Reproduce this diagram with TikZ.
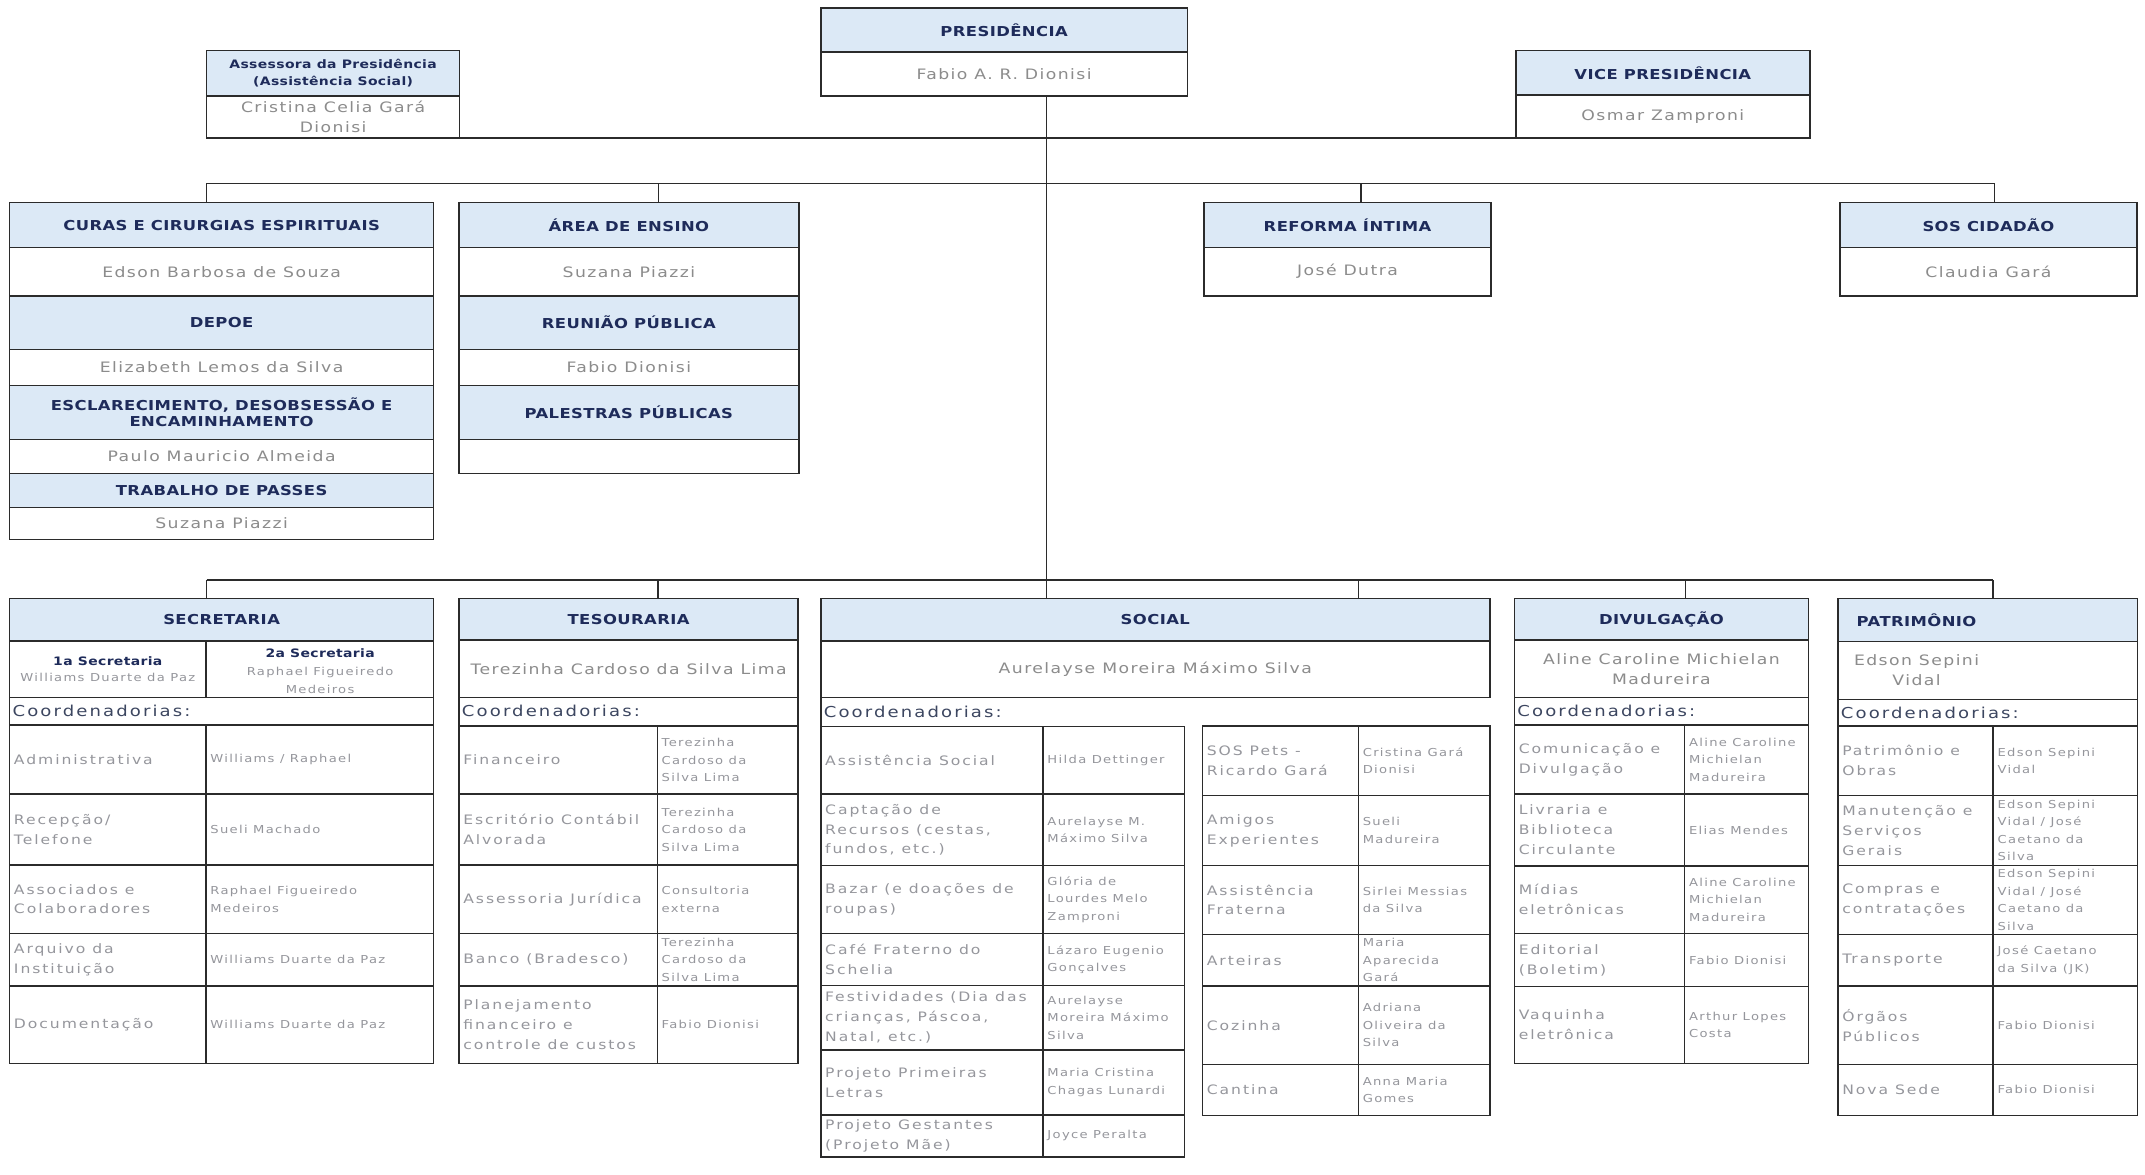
\documentclass[tikz,border=0pt]{standalone}
\usepackage{fontspec}
\setmainfont{DejaVu Sans}
\newfontfamily\hf[FakeStretch=1.2,LetterSpace=3]{DejaVu Sans}
\newfontfamily\nf[FakeStretch=1.2,LetterSpace=10]{DejaVu Sans}
\newfontfamily\cf[FakeStretch=1.2,LetterSpace=15]{DejaVu Sans}
\newfontfamily\rf[FakeStretch=1.2,LetterSpace=12]{DejaVu Sans}
\newfontfamily\kf[FakeStretch=1.2,LetterSpace=14]{DejaVu Sans}
\usetikzlibrary{fit}
\definecolor{hdrfill}{HTML}{DCE9F6}
\definecolor{navy}{HTML}{1E2B5A}
\definecolor{namegray}{HTML}{8C8C8C}
\definecolor{cellgray}{HTML}{95969C}
\definecolor{coordc}{HTML}{3C4660}
\definecolor{linec}{HTML}{2B2B2B}
\tikzset{
  bline/.style={draw=linec, line width=1.1pt},
  conn/.style={draw=linec, line width=1.1pt},
  boxo/.style={draw=linec, line width=1.1pt, inner sep=0pt, outer sep=0pt},
  htxt/.style={font=\hf\bfseries\fontsize{10}{12}\selectfont, text=navy, align=center, inner sep=0pt},
  hstxt/.style={font=\hf\bfseries\fontsize{8.5}{12.5}\selectfont, text=navy, align=center, inner sep=0pt},
  ntxt/.style={font=\nf\fontsize{10.5}{14.5}\selectfont, text=namegray, align=center, inner sep=0pt},
  ltxt/.style={font=\cf\fontsize{9.5}{14.5}\selectfont, text=cellgray, align=left, anchor=west, inner sep=0pt},
  rtxt/.style={font=\rf\fontsize{8}{12.8}\selectfont, text=cellgray, align=left, anchor=west, inner sep=0pt},
  ktxt/.style={font=\kf\fontsize{11}{12}\selectfont, text=coordc, anchor=west, inner sep=0pt},
}
\newcommand\orgrow[7]{%
  \draw[bline] (#1,#4) rectangle (#3,#5);
  \draw[bline] (#2,#4) -- (#2,#5);
  \node[ltxt] at ({#1+3},{(#4+#5)/2}) {#6};
  \node[rtxt] at ({#2+3},{(#4+#5)/2}) {#7};
}
\begin{document}
\begin{tikzpicture}[x=1pt,y=-1pt]
\fill[white] (0,0) rectangle (1568,858.2);
\useasboundingbox (0,0) rectangle (1568,858.2);

% ---------------- top row ----------------
\fill[hdrfill] (600,6) rectangle (868,38);
\node[boxo, fit={(600,6) (868,70)}] (pres) {};
\draw[bline] (600,38) -- (868,38);
\node[htxt] (presh) at (734,22) {PRESIDÊNCIA};
\node[ntxt] (presn) at (734,54) {Fabio A. R. Dionisi};

\fill[hdrfill] (151,37) rectangle (336,70);
\node[boxo, fit={(151,37) (336,101)}] (asses) {};
\draw[bline] (151,70) -- (336,70);
\node[hstxt] (assesh) at (243.5,53.5) {Assessora da Presidência\\(Assistência Social)};
\node[ntxt, font=\nf\fontsize{10.5}{14.5}\selectfont] (assesn) at (243.5,85.5) {Cristina Celia Gará\\Dionisi};

\fill[hdrfill] (1108,37) rectangle (1323,69.4);
\node[boxo, fit={(1108,37) (1323,101)}] (vice) {};
\draw[bline] (1108,69.4) -- (1323,69.4);
\node[htxt] (viceh) at (1215.5,53.2) {VICE PRESIDÊNCIA};
\node[ntxt] (vicen) at (1215.5,85.2) {Osmar Zamproni};

\draw[conn] (asses.south east) -- (vice.south west);

% ---------------- second row ----------------
% Curas column
\fill[hdrfill] (7,148.2) rectangle (317,180.8);
\fill[hdrfill] (7,216.4) rectangle (317,255.4);
\fill[hdrfill] (7,281.7) rectangle (317,321.1);
\fill[hdrfill] (7,346) rectangle (317,370.9);
\node[boxo, fit={(7,148.2) (317,394.3)}] (curas) {};
\foreach \yy in {180.8,216.4,255.4,281.7,321.1,346,370.9} \draw[bline] (7,\yy) -- (317,\yy);
\node[htxt] (curash) at (162,164.5) {CURAS E CIRURGIAS ESPIRITUAIS};
\node[ntxt] (curasn) at (162,198.6) {Edson Barbosa de Souza};
\node[htxt] (depoeh) at (162,235.9) {DEPOE};
\node[ntxt] (depoen) at (162,268.5) {Elizabeth Lemos da Silva};
\node[htxt] (esclh) at (162,301.4) {ESCLARECIMENTO, DESOBSESSÃO E\\ENCAMINHAMENTO};
\node[ntxt] (escln) at (162,333.5) {Paulo Mauricio Almeida};
\node[htxt] (passh) at (162,358.4) {TRABALHO DE PASSES};
\node[ntxt] (passn) at (162,382.6) {Suzana Piazzi};

% Area de ensino
\fill[hdrfill] (335.5,148.2) rectangle (584,180.8);
\fill[hdrfill] (335.5,216.4) rectangle (584,255.4);
\fill[hdrfill] (335.5,281.7) rectangle (584,321.1);
\node[boxo, fit={(335.5,148.2) (584,346)}] (ensino) {};
\foreach \yy in {180.8,216.4,255.4,281.7,321.1} \draw[bline] (335.5,\yy) -- (584,\yy);
\node[htxt] (ensinoh) at (459.7,164.5) {ÁREA DE ENSINO};
\node[ntxt] (ensinon) at (459.7,198.6) {Suzana Piazzi};
\node[htxt] (reunh) at (459.7,235.9) {REUNIÃO PÚBLICA};
\node[ntxt] (reunn) at (459.7,268.5) {Fabio Dionisi};
\node[htxt] (palh) at (459.7,301.4) {PALESTRAS PÚBLICAS};

% Reforma intima
\fill[hdrfill] (880,148.2) rectangle (1090,180.8);
\node[boxo, fit={(880,148.2) (1090,216.4)}] (reforma) {};
\draw[bline] (880,180.8) -- (1090,180.8);
\node[htxt] (reformah) at (985,164.5) {REFORMA ÍNTIMA};
\node[ntxt] (reforman) at (985,198.6) {José Dutra};

% SOS cidadao
\fill[hdrfill] (1345,148.2) rectangle (1562,180.8);
\node[boxo, fit={(1345,148.2) (1562,216.4)}] (sos) {};
\draw[bline] (1345,180.8) -- (1562,180.8);
\node[htxt] (sosh) at (1453.5,164.5) {SOS CIDADÃO};
\node[ntxt] (sosn) at (1453.5,198.6) {Claudia Gará};

% ---------------- third row ----------------
% Secretaria
\fill[hdrfill] (7,437.4) rectangle (317,468.5);
\node[boxo, fit={(7,437.4) (317,509.7)}] (sec) {};
\draw[bline] (7,468.5) -- (317,468.5);
\draw[bline] (150.6,468.5) -- (150.6,509.7);
\draw[bline] (7,509.7) -- (7,530) (317,509.7) -- (317,530);
\node[htxt] (sech) at (162,453) {SECRETARIA};
\node[font=\rf\fontsize{8}{12}\selectfont, text=cellgray, align=center, inner sep=0pt] (sec1) at (78.8,489)
  {{\hf\bfseries\fontsize{8.5}{12}\selectfont\color{navy}1a Secretaria}\\Williams Duarte da Paz};
\node[font=\rf\fontsize{8}{13}\selectfont, text=cellgray, align=center, inner sep=0pt] (sec2) at (234,490.5)
  {{\hf\bfseries\fontsize{8.5}{12}\selectfont\color{navy}2a Secretaria}\\Raphael Figueiredo\\Medeiros};
\node[ktxt] (seck) at (9,520) {Coordenadorias:};
\orgrow{7}{150.6}{317}{530}{580.4}{Administrativa}{Williams / Raphael}
\orgrow{7}{150.6}{317}{580.4}{632.3}{Recepção/\\Telefone}{Sueli Machado}
\orgrow{7}{150.6}{317}{632.3}{682.3}{Associados e\\Colaboradores}{Raphael Figueiredo\\Medeiros}
\orgrow{7}{150.6}{317}{682.3}{720.8}{Arquivo da\\Instituição}{Williams Duarte da Paz}
\orgrow{7}{150.6}{317}{720.8}{777.3}{Documentação}{Williams Duarte da Paz}

% Tesouraria
\fill[hdrfill] (335.5,437.4) rectangle (583.5,467.8);
\node[boxo, fit={(335.5,437.4) (583.5,509.7)}] (tes) {};
\draw[bline] (335.5,467.8) -- (583.5,467.8);
\draw[bline] (335.5,509.7) -- (335.5,530.7) (583.5,509.7) -- (583.5,530.7);
\node[htxt] (tesh) at (459.5,453) {TESOURARIA};
\node[ntxt] (tesn) at (459.5,489) {Terezinha Cardoso da Silva Lima};
\node[ktxt] (tesk) at (337.5,520) {Coordenadorias:};
\orgrow{335.5}{480.5}{583.5}{530.7}{580.4}{Financeiro}{Terezinha\\Cardoso da\\Silva Lima}
\orgrow{335.5}{480.5}{583.5}{580.4}{632.3}{Escritório Contábil\\Alvorada}{Terezinha\\Cardoso da\\Silva Lima}
\orgrow{335.5}{480.5}{583.5}{632.3}{682.3}{Assessoria Jurídica}{Consultoria\\externa}
\orgrow{335.5}{480.5}{583.5}{682.3}{720.8}{Banco (Bradesco)}{Terezinha\\Cardoso da\\Silva Lima}
\orgrow{335.5}{480.5}{583.5}{720.8}{777.3}{Planejamento\\financeiro e\\controle de custos}{Fabio Dionisi}

% Social
\fill[hdrfill] (600,437.4) rectangle (1089,468.6);
\node[boxo, fit={(600,437.4) (1089,509.9)}] (social) {};
\draw[bline] (600,468.6) -- (1089,468.6);
\draw[bline] (600,509.9) -- (600,531);
\node[htxt] (socialh) at (844.5,453) {SOCIAL};
\node[ntxt] (socialn) at (844.5,489.2) {Aurelayse Moreira Máximo Silva};
\node[ktxt] (socialk) at (602,520.5) {Coordenadorias:};
\orgrow{600}{762.5}{866}{531}{580.5}{Assistência Social}{Hilda Dettinger}
\orgrow{600}{762.5}{866}{580.5}{632.7}{Captação de\\Recursos (cestas,\\fundos, etc.)}{Aurelayse M.\\Máximo Silva}
\orgrow{600}{762.5}{866}{632.7}{682.3}{Bazar (e doações de\\roupas)}{Glória de\\Lourdes Melo\\Zamproni}
\orgrow{600}{762.5}{866}{682.3}{720.4}{Café Fraterno do\\Schelia}{Lázaro Eugenio\\Gonçalves}
\orgrow{600}{762.5}{866}{720.4}{767.5}{Festividades (Dia das\\crianças, Páscoa,\\Natal, etc.)}{Aurelayse\\Moreira Máximo\\Silva}
\orgrow{600}{762.5}{866}{767.5}{815}{Projeto Primeiras\\Letras}{Maria Cristina\\Chagas Lunardi}
\orgrow{600}{762.5}{866}{815}{845.6}{Projeto Gestantes\\(Projeto Mãe)}{Joyce Peralta}
\orgrow{879}{993}{1089}{530.7}{581.6}{SOS Pets -\\Ricardo Gará}{Cristina Gará\\Dionisi}
\orgrow{879}{993}{1089}{581.6}{632.7}{Amigos\\Experientes}{Sueli\\Madureira}
\orgrow{879}{993}{1089}{632.7}{683}{Assistência\\Fraterna}{Sirlei Messias\\da Silva}
\orgrow{879}{993}{1089}{683}{720.8}{Arteiras}{Maria\\Aparecida\\Gará}
\orgrow{879}{993}{1089}{720.8}{778.1}{Cozinha}{Adriana\\Oliveira da\\Silva}
\orgrow{879}{993}{1089}{778.1}{815.3}{Cantina}{Anna Maria\\Gomes}

% Divulgacao
\fill[hdrfill] (1107,437.4) rectangle (1322,467.8);
\node[boxo, fit={(1107,437.4) (1322,509.7)}] (div) {};
\draw[bline] (1107,467.8) -- (1322,467.8);
\draw[bline] (1107,509.7) -- (1107,530) (1322,509.7) -- (1322,530);
\node[htxt] (divh) at (1214.5,453) {DIVULGAÇÃO};
\node[ntxt] (divn) at (1214.5,489) {Aline Caroline Michielan\\Madureira};
\node[ktxt] (divk) at (1109,520) {Coordenadorias:};
\orgrow{1107}{1231.5}{1322}{530}{580.4}{Comunicação e\\Divulgação}{Aline Caroline\\Michielan\\Madureira}
\orgrow{1107}{1231.5}{1322}{580.4}{633}{Livraria e\\Biblioteca\\Circulante}{Elias Mendes}
\orgrow{1107}{1231.5}{1322}{633}{682.3}{Mídias\\eletrônicas}{Aline Caroline\\Michielan\\Madureira}
\orgrow{1107}{1231.5}{1322}{682.3}{721.3}{Editorial\\(Boletim)}{Fabio Dionisi}
\orgrow{1107}{1231.5}{1322}{721.3}{777.3}{Vaquinha\\eletrônica}{Arthur Lopes\\Costa}

% Patrimonio
\fill[hdrfill] (1343.5,437.6) rectangle (1562.5,469);
\node[boxo, fit={(1343.5,437.6) (1562.5,511.3)}] (pat) {};
\draw[bline] (1343.5,469) -- (1562.5,469);
\draw[bline] (1343.5,511.3) -- (1343.5,530.7) (1562.5,511.3) -- (1562.5,530.7);
\node[htxt] (path) at (1401,453.3) {PATRIMÔNIO};
\node[ntxt] (patn) at (1401,490) {Edson Sepini\\Vidal};
\node[ktxt] (patk) at (1345.5,521) {Coordenadorias:};
\orgrow{1343.5}{1457}{1562.5}{530.7}{581.6}{Patrimônio e\\Obras}{Edson Sepini\\Vidal}
\orgrow{1343.5}{1457}{1562.5}{581.6}{632.7}{Manutenção e\\Serviços\\Gerais}{Edson Sepini\\Vidal / José\\Caetano da\\Silva}
\orgrow{1343.5}{1457}{1562.5}{632.7}{683}{Compras e\\contratações}{Edson Sepini\\Vidal / José\\Caetano da\\Silva}
\orgrow{1343.5}{1457}{1562.5}{683}{720.8}{Transporte}{José Caetano\\da Silva (JK)}
\orgrow{1343.5}{1457}{1562.5}{720.8}{778.1}{Órgãos\\Públicos}{Fabio Dionisi}
\orgrow{1343.5}{1457}{1562.5}{778.1}{815.3}{Nova Sede}{Fabio Dionisi}

% ---------------- connectors ----------------
\coordinate (tk) at (765,0);
\draw[conn] (pres.south -| tk) -- (social.north -| tk);

\coordinate (b1a) at (151,134);
\coordinate (b1b) at (481.5,134);
\coordinate (b1c) at (995,134);
\coordinate (b1d) at (1458,134);
\draw[conn] (b1a) -- (b1d);
\draw[conn] (b1a) -- (b1a |- curas.north);
\draw[conn] (b1b) -- (b1b |- ensino.north);
\draw[conn] (b1c) -- (b1c |- reforma.north);
\draw[conn] (b1d) -- (b1d |- sos.north);

\coordinate (b2a) at (151,424);
\coordinate (b2b) at (481,424);
\coordinate (b2c) at (993,424);
\coordinate (b2d) at (1232,424);
\coordinate (b2e) at (1457,424);
\draw[conn] (b2a) -- (b2e);
\draw[conn] (b2a) -- (b2a |- sec.north);
\draw[conn] (b2b) -- (b2b |- tes.north);
\draw[conn] (b2c) -- (b2c |- social.north);
\draw[conn] (b2d) -- (b2d |- div.north);
\draw[conn] (b2e) -- (b2e |- pat.north);
\end{tikzpicture}
\end{document}
